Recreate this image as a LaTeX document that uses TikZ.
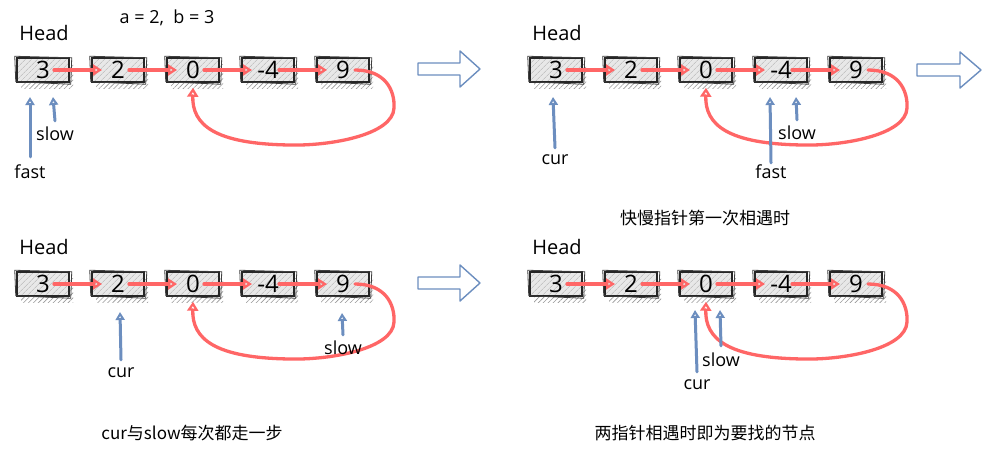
\documentclass[tikz,border=0pt]{standalone}
\usepackage{fontspec}
\setmainfont{Open Sans}
\newfontfamily\cjk{Noto Sans CJK SC}
\usetikzlibrary{arrows.meta,patterns.meta}
\definecolor{lred}{HTML}{FF6666}
\definecolor{lblue}{HTML}{6C8EBF}
\tikzset{
  lbox/.style={minimum width=52pt,minimum height=24pt,inner sep=0pt,
    preaction={fill=black!9},
    pattern={Lines[angle=45,distance=4pt,line width=0.5pt]},pattern color=black!30,
    draw=black!85,line width=1.5pt,font=\fontsize{24}{24}\selectfont},
  shadowhatch/.style={pattern={Lines[angle=45,distance=3.5pt,line width=0.6pt]},pattern color=black!40},
  sketchline/.style={draw=black!75,line width=0.8pt,line join=round},
  headlab/.style={inner sep=0pt,font=\fontsize{20}{20}\selectfont},
  ptrlab/.style={inner sep=0pt,font=\fontsize{18}{18}\selectfont},
  caplab/.style={inner sep=0pt,font=\cjk\fontsize{17}{17}\selectfont},
  rarr/.style={draw=lred,line width=3.3pt,line cap=round,line join=round,
    -{Triangle[open,length=9pt,width=11pt,line width=2.4pt]}},
  bptr/.style={draw=lblue,line width=3pt,line cap=round,line join=round,
    -{Triangle[open,length=8pt,width=9pt,line width=2.2pt]}},
  bigarrow/.style={draw=lblue,line width=1.4pt,line join=round,fill=white},
}
\newcommand\lnode[3]{%
  \fill[shadowhatch] (#2-22,64) rectangle (#2+30,88);
  \node[lbox] (#1) at (#2,70) {#3};
  \draw[sketchline] ([shift={(-1.5pt,1pt)}]#1.north west) -- ([shift={(2pt,-0.5pt)}]#1.north east)
     -- ([shift={(1pt,-1.5pt)}]#1.south east) -- ([shift={(-0.5pt,1pt)}]#1.south west) -- cycle;
}
\newcommand\llpanel{%
  \node[headlab] (head) at (44,33) {Head};
  \lnode{n1}{43}{3}
  \lnode{n2}{118}{2}
  \lnode{n3}{193}{0}
  \lnode{n4}{268}{-4}
  \lnode{n5}{343}{9}
  \foreach \a/\b in {n1/n2,n2/n3,n3/n4,n4/n5}
    \draw[rarr] ([xshift=11pt]\a.center) -- ([xshift=-16pt]\b.center);
  \draw[rarr] ([xshift=12pt]n5.center) .. controls (385,70) and (395,90) .. (394,108)
     .. controls (393,135) and (330,146) .. (290,145)
     .. controls (215,144) and (192,125) .. ([yshift=-5pt]n3.south);
}
\begin{document}
\begin{tikzpicture}[x=1pt,y=-1pt]
\useasboundingbox (0,0) rectangle (990,455);
\fill[white] (0,0) rectangle (990,455);

% panel 1
\begin{scope}[name prefix=pa-]
  \llpanel
  \node[ptrlab] (ab) at (167,18) {a = 2,\ \ b = 3};
  \node[ptrlab] (fast) at (30,172) {fast};
  \node[ptrlab] (slow) at (55,134) {slow};
  \coordinate (tf) at (30,97);
  \coordinate (ts) at (53,97);
  \draw[bptr] ([yshift=8pt]fast.north) -- (tf);
  \draw[bptr] ([yshift=6pt]slow.north) -- (ts);
\end{scope}

% panel 2
\begin{scope}[shift={(513,0)},name prefix=pb-]
  \llpanel
  \node[ptrlab] (cur) at (42,160) {cur};
  \node[ptrlab] (fast) at (258,172) {fast};
  \node[ptrlab] (slow) at (284,133) {slow};
  \coordinate (tc) at (40,97);
  \coordinate (tf) at (257,97);
  \coordinate (ts) at (283,97);
  \draw[bptr] ([yshift=7pt]cur.north) -- (tc);
  \draw[bptr] ([yshift=2pt]fast.north) -- (tf);
  \draw[bptr] ([yshift=6pt]slow.north) -- (ts);
  \node[caplab] (cap) at (192,218) {快慢指针第一次相遇时};
\end{scope}

% panel 3
\begin{scope}[shift={(0,214)},name prefix=pc-]
  \llpanel
  \node[ptrlab] (cur) at (121,159) {cur};
  \node[ptrlab] (slow) at (343,134) {slow};
  \coordinate (tc) at (120,98);
  \coordinate (ts) at (342,99);
  \draw[bptr] ([yshift=8pt]cur.north) -- (tc);
  \draw[bptr] ([yshift=6pt]slow.north) -- (ts);
  \node[caplab] (cap) at (192,219) {cur与slow每次都走一步};
\end{scope}

% panel 4
\begin{scope}[shift={(513,214)},name prefix=pd-]
  \llpanel
  \node[ptrlab] (cur) at (184,171) {cur};
  \node[ptrlab] (slow) at (208,146) {slow};
  \coordinate (tc) at (182,96);
  \coordinate (ts) at (207,96);
  \draw[bptr] ([yshift=8pt]cur.north) -- (tc);
  \draw[bptr] ([yshift=7pt]slow.north) -- (ts);
  \node[caplab] (cap) at (192,219) {两指针相遇时即为要找的节点};
\end{scope}

% hollow transition arrows
\draw[bigarrow] (418,63) -- (460,63) -- (460,51) -- (480,69) -- (460,87) -- (460,75) -- (418,75) -- cycle;
\draw[bigarrow] (917,64) -- (960,64) -- (960,52) -- (981,70) -- (960,88) -- (960,76) -- (917,76) -- cycle;
\draw[bigarrow] (418,277) -- (460,277) -- (460,265) -- (480,283) -- (460,301) -- (460,289) -- (418,289) -- cycle;
\end{tikzpicture}
\end{document}
